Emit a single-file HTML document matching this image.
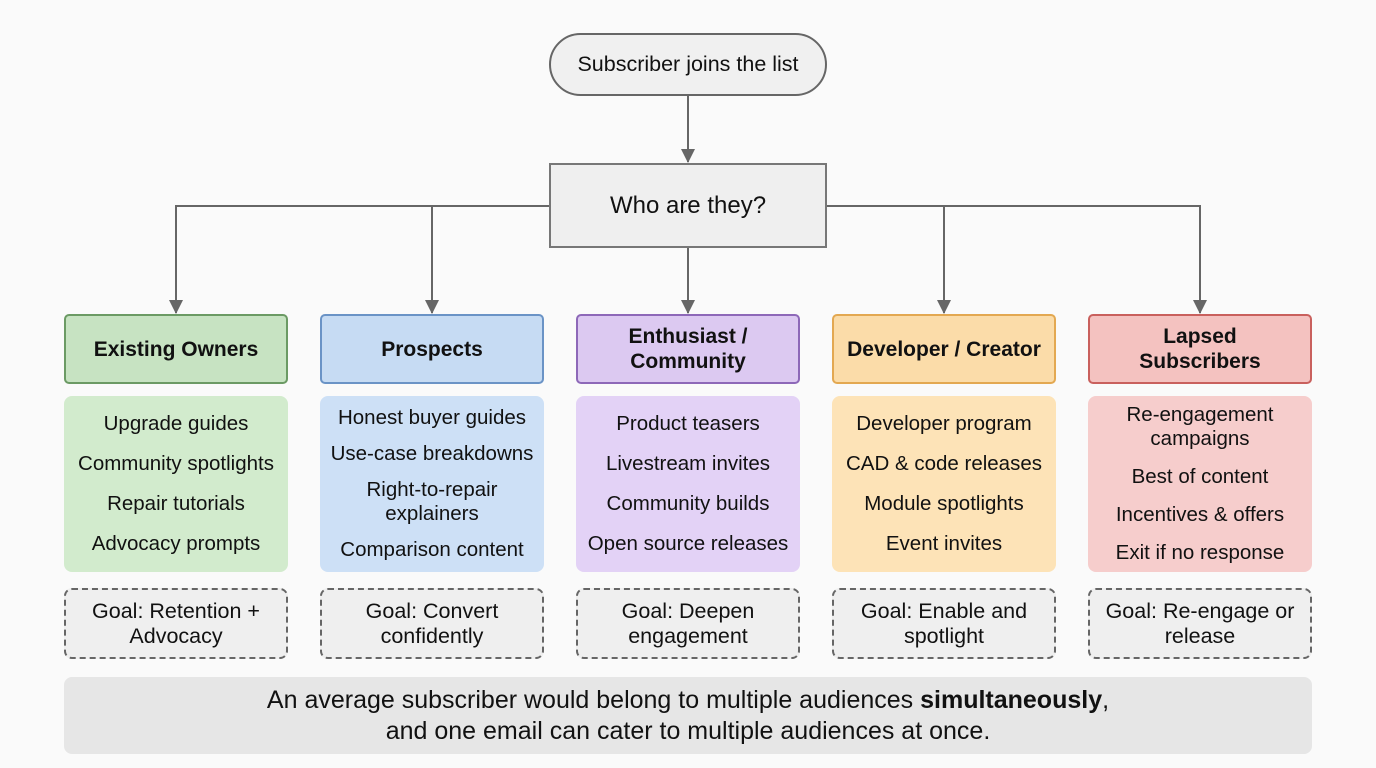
<!DOCTYPE html>
<html><head><style>
body{margin:0;width:1376px;height:768px;background:#fafafa;font-family:"Liberation Sans",sans-serif;position:relative;overflow:hidden;color:#111}
.a{position:absolute;box-sizing:border-box;display:flex;align-items:center;justify-content:center;text-align:center}
.h{top:314px;height:70px;width:224px;border:2px solid;border-radius:5px;font-weight:bold;font-size:21px;line-height:25px}
.b{top:396px;height:176px;width:224px;border-radius:8px;flex-direction:column;font-size:20.5px;line-height:24px;gap:16px}
.g{top:588px;height:71px;width:224px;border:2px dashed #666;border-radius:8px;background:#efefef;font-size:21.5px;line-height:25px}
</style></head><body>
<svg style="position:absolute;left:0;top:0" width="1376" height="768">
<defs><marker id="m" markerWidth="14" markerHeight="14" refX="13" refY="7" orient="auto" markerUnits="userSpaceOnUse"><path d="M0,0L14,7L0,14z" fill="#666"/></marker></defs>
<g stroke="#666" stroke-width="2" fill="none">
<line x1="688" y1="96" x2="688" y2="162" marker-end="url(#m)"/>
<polyline points="549,206 176,206 176,313" marker-end="url(#m)"/>
<line x1="432" y1="206" x2="432" y2="313" marker-end="url(#m)"/>
<line x1="688" y1="248" x2="688" y2="313" marker-end="url(#m)"/>
<polyline points="826,206 1200,206 1200,313" marker-end="url(#m)"/>
<line x1="944" y1="206" x2="944" y2="313" marker-end="url(#m)"/>
</g></svg>
<div class="a" style="left:549px;top:33px;width:278px;height:63px;border:2px solid #666;border-radius:32px;background:#f0f0f0;font-size:21.5px">Subscriber joins the list</div>
<div class="a" style="left:549px;top:163px;width:278px;height:85px;border:2px solid #777;background:#efefef;font-size:24px">Who are they?</div>

<div class="a h" style="left:64px;background:#c7e3c2;border-color:#6b9a64">Existing Owners</div>
<div class="a h" style="left:320px;background:#c6dbf3;border-color:#6a93c6">Prospects</div>
<div class="a h" style="left:576px;background:#dcc9f1;border-color:#8d68b8">Enthusiast /<br>Community</div>
<div class="a h" style="left:832px;background:#fbdca9;border-color:#e3a851">Developer / Creator</div>
<div class="a h" style="left:1088px;background:#f4c2c0;border-color:#c9605d">Lapsed<br>Subscribers</div>

<div class="a b" style="left:64px;background:#d2ebcd"><div>Upgrade guides</div><div>Community spotlights</div><div>Repair tutorials</div><div>Advocacy prompts</div></div>
<div class="a b" style="left:320px;background:#cde0f6;gap:12px"><div>Honest buyer guides</div><div>Use-case breakdowns</div><div>Right-to-repair<br>explainers</div><div>Comparison content</div></div>
<div class="a b" style="left:576px;background:#e3d2f6"><div>Product teasers</div><div>Livestream invites</div><div>Community builds</div><div>Open source releases</div></div>
<div class="a b" style="left:832px;background:#fde3b7"><div>Developer program</div><div>CAD &amp; code releases</div><div>Module spotlights</div><div>Event invites</div></div>
<div class="a b" style="left:1088px;background:#f6cdcc;gap:14px"><div>Re-engagement<br>campaigns</div><div>Best of content</div><div>Incentives &amp; offers</div><div>Exit if no response</div></div>

<div class="a g" style="left:64px">Goal: Retention +<br>Advocacy</div>
<div class="a g" style="left:320px">Goal: Convert<br>confidently</div>
<div class="a g" style="left:576px">Goal: Deepen<br>engagement</div>
<div class="a g" style="left:832px">Goal: Enable and<br>spotlight</div>
<div class="a g" style="left:1088px">Goal: Re-engage or<br>release</div>

<div style="position:absolute;left:64px;top:677px;width:1248px;height:77px;box-sizing:border-box;padding-top:8px;background:#e6e6e6;border-radius:8px;font-size:25px;line-height:31px;text-align:center">An average subscriber would belong to multiple audiences <b>simultaneously</b>,<br>and one email can cater to multiple audiences at once.</div>
</body></html>
